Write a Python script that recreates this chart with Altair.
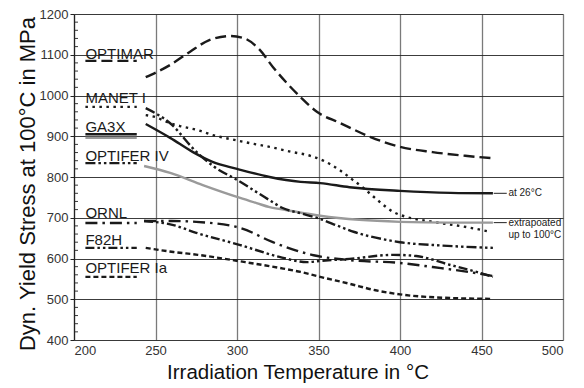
import altair as alt
import pandas as pd

# ---- data ----
optimar_t = [244, 259, 271, 283, 296, 304, 314, 322, 330, 339, 349, 363, 382, 400, 420, 440, 457]
optimar_v = [1045, 1075, 1107, 1136, 1146, 1141, 1112, 1070, 1033, 996, 960, 933, 898, 874, 861, 852, 846]

manet_t = [244, 250, 257, 265, 276, 285, 296, 308, 320, 333, 345, 353, 363, 371, 377, 386, 396, 404, 420, 441, 456]
manet_v = [952, 947, 935, 925, 915, 903, 893, 883, 874, 862, 852, 840, 817, 793, 775, 744, 714, 702, 690, 677, 665]

ga3x_t = [244, 259, 273, 285, 300, 320, 339, 351, 369, 400, 431, 457]
ga3x_v = [930, 896, 861, 837, 820, 800, 788, 785, 775, 766, 761, 760]

ga3x_ext_t = [243, 259, 279, 300, 312, 320, 330, 351, 375, 400, 430, 457]
ga3x_ext_v = [827, 810, 780, 751, 736, 726, 719, 705, 695, 690, 688, 688]

optifer4_t = [244, 259, 275, 286, 300, 320, 328, 340, 351, 362, 372, 390, 400, 425, 457]
optifer4_v = [969, 932, 862, 825, 793, 743, 724, 710, 697, 680, 665, 647, 640, 632, 626]

ornl_t = [243, 260, 275, 302, 322, 347, 369, 400, 420, 447, 457]
ornl_v = [692, 692, 690, 675, 640, 608, 596, 589, 579, 564, 557]

f82h_t = [243, 261, 275, 302, 326, 343, 351, 369, 396, 410, 431, 447, 457]
f82h_v = [692, 682, 663, 633, 604, 591, 594, 599, 609, 606, 584, 567, 555]

optifer1a_t = [244, 261, 276, 302, 326, 339, 351, 369, 385, 400, 431, 456]
optifer1a_v = [626, 616, 609, 593, 577, 567, 555, 538, 522, 512, 503, 501]

# legend-in-plot labels
label_names = ["OPTIMAR", "MANET I", "GA3X", "OPTIFER IV", "ORNL", "F82H", "OPTIFER Ia"]
label_text_y = [1090, 982, 910, 839, 700, 633, 564]
label_sample_y = [1085, 972, 905, 834, 687, 626, 555]
ga3x_ext_sample_y = 896
label_x_start = 207
label_x_end = 238.5

x_ticks = [200, 250, 300, 350, 400, 450, 500]
y_ticks = [400, 500, 600, 700, 800, 900, 1000, 1100, 1200]
y_minor = [v for v in range(400, 1201, 20) if v % 100 != 0]

note_26_y = 760
note_ext_y = [688, 658]

FONT = "Liberation Sans"
BLACK = "#1a1a1a"
GRAY = "#9a9a9a"

x_scale = alt.Scale(domain=[200, 500], nice=False)
y_scale = alt.Scale(domain=[400, 1200], nice=False)

styles = {
    "OPTIMAR": dict(color=BLACK, dash=[11, 5]),
    "MANET I": dict(color=BLACK, dash=[2.5, 4.5]),
    "GA3X": dict(color=BLACK, dash=None),
    "GA3X ext": dict(color=GRAY, dash=None),
    "OPTIFER IV": dict(color=BLACK, dash=[10, 3, 2.5, 3, 2.5, 3]),
    "ORNL": dict(color=BLACK, dash=[12, 5, 2.5, 5]),
    "F82H": dict(color=BLACK, dash=[9, 3, 2.5, 3, 2.5, 3]),
    "OPTIFER Ia": dict(color=BLACK, dash=[5, 3]),
}

series = [
    ("OPTIMAR", optimar_t, optimar_v),
    ("MANET I", manet_t, manet_v),
    ("GA3X ext", ga3x_ext_t, ga3x_ext_v),
    ("GA3X", ga3x_t, ga3x_v),
    ("OPTIFER IV", optifer4_t, optifer4_v),
    ("ORNL", ornl_t, ornl_v),
    ("F82H", f82h_t, f82h_v),
    ("OPTIFER Ia", optifer1a_t, optifer1a_v),
]

x_axis = alt.Axis(
    values=x_ticks, grid=True, gridColor="#7a7a7a", gridWidth=1.3, ticks=False,
    labelPadding=4, labelFontSize=13, labelColor="#333", labelFont=FONT, format="d",
    domain=False, title="Irradiation Temperature in °C", titleFont=FONT,
    titleFontSize=20.5, titleFontWeight="normal", titleColor="#111",
    titleX=223.5, titleY=38, titleAlign="center", titleBaseline="alphabetic",
)
y_axis = alt.Axis(
    values=y_ticks, grid=True, gridColor="#262626", gridWidth=0.9, tickSize=4,
    tickColor="#222", labelPadding=2, labelFontSize=13, labelColor="#333",
    labelFont=FONT, format="d", domainColor="#222", domainWidth=1.2,
    title="Dyn. Yield Stress at 100°C in MPa", titleFont=FONT, titleFontSize=22,
    titleFontWeight="normal", titleColor="#111", titleAngle=270,
    titleX=-40, titleY=169.5, titleAlign="center", titleBaseline="alphabetic",
)

layers = []

# base layer with axes (minor ticks on the inside of the y axis)
minor_df = pd.DataFrame({"y": y_minor})
layers.append(
    alt.Chart(minor_df).mark_rule(color="#222", strokeWidth=0.9).encode(
        x=alt.value(0), x2=alt.value(4),
        y=alt.Y("y:Q", scale=y_scale, axis=y_axis),
    )
)
# invisible x-axis carrier
layers.append(
    alt.Chart(pd.DataFrame({"x": x_ticks})).mark_point(opacity=0).encode(
        x=alt.X("x:Q", scale=x_scale, axis=x_axis),
        y=alt.value(0),
    )
)

for name, ts, vs in series:
    st = styles[name]
    df = pd.DataFrame({"t": ts, "v": vs})
    kw = dict(color=st["color"], strokeWidth=2.4, interpolate="monotone", strokeCap="butt")
    if st["dash"]:
        kw["strokeDash"] = st["dash"]
    layers.append(
        alt.Chart(df).mark_line(**kw).encode(
            x=alt.X("t:Q", scale=x_scale), y=alt.Y("v:Q", scale=y_scale)
        )
    )

# in-plot legend samples
sample_names = label_names + ["GA3X ext"]
sample_ys = label_sample_y + [ga3x_ext_sample_y]
for name, sy in zip(sample_names, sample_ys):
    st = styles[name]
    kw = dict(color=st["color"], strokeWidth=2.4, strokeCap="butt")
    if st["dash"]:
        kw["strokeDash"] = st["dash"]
    df = pd.DataFrame({"x": [label_x_start], "x2": [label_x_end], "y": [sy]})
    layers.append(
        alt.Chart(df).mark_rule(**kw).encode(
            x=alt.X("x:Q", scale=x_scale), x2="x2:Q", y=alt.Y("y:Q", scale=y_scale)
        )
    )

label_df = pd.DataFrame({"name": label_names, "x": [label_x_start] * len(label_names), "y": label_text_y})
layers.append(
    alt.Chart(label_df).mark_text(
        align="left", baseline="alphabetic", font=FONT, fontSize=15, color=BLACK
    ).encode(x=alt.X("x:Q", scale=x_scale), y=alt.Y("y:Q", scale=y_scale), text="name:N")
)

# annotations at right
conn_df = pd.DataFrame({"x": [457.5, 457.5], "x2": [465.5, 465.5], "y": [note_26_y, note_ext_y[0]]})
layers.append(
    alt.Chart(conn_df).mark_rule(color="#222", strokeWidth=1).encode(
        x=alt.X("x:Q", scale=x_scale), x2="x2:Q", y=alt.Y("y:Q", scale=y_scale)
    )
)
note_df = pd.DataFrame({
    "txt": ["at 26°C", "extrapoated", "up to 100°C"],
    "x": [466.5, 466.5, 466.5],
    "y": [note_26_y, note_ext_y[0], note_ext_y[1]],
})
layers.append(
    alt.Chart(note_df).mark_text(
        align="left", baseline="middle", font=FONT, fontSize=10, color="#222"
    ).encode(x=alt.X("x:Q", scale=x_scale), y=alt.Y("y:Q", scale=y_scale), text="txt:N")
)

chart = alt.layer(*layers).properties(
    width=489, height=326,
    autosize=alt.AutoSizeParams(type="none"),
    padding={"left": 66, "top": 6, "right": 13, "bottom": 46},
).configure_view(stroke="#8a8a8a", strokeWidth=1.5).configure(background="white")

chart.save("out.html", embed_options={"renderer": "svg", "actions": False})
